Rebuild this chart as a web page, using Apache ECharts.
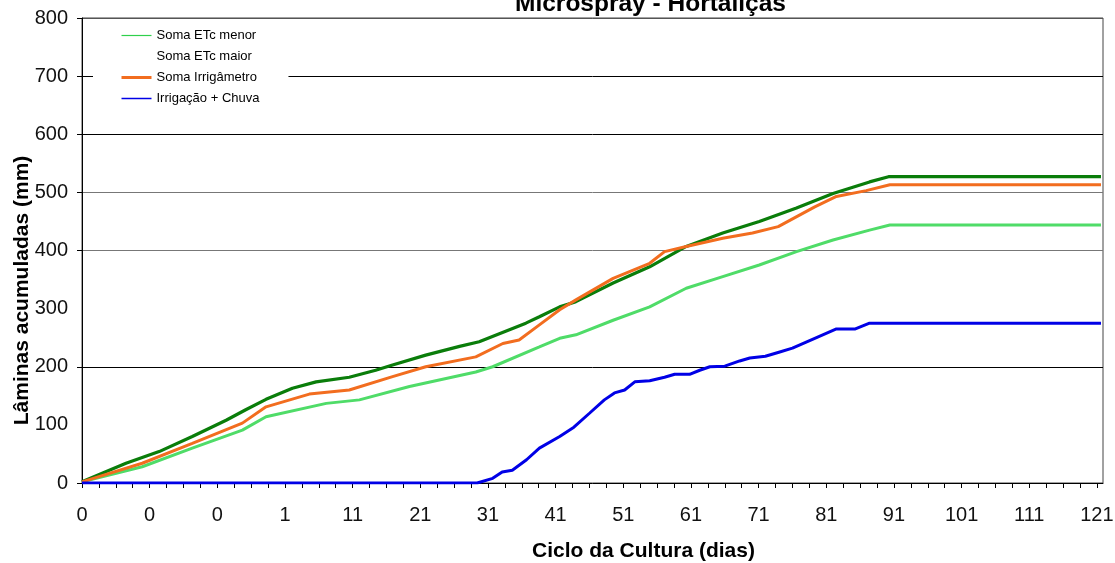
<!DOCTYPE html>
<html>
<head>
<meta charset="utf-8">
<script src="https://cdn.jsdelivr.net/npm/echarts@6/dist/echarts.min.js"></script>
<style>html,body{margin:0;padding:0;background:#fff}#c{width:1115px;height:563px}</style>
</head>
<body>
<div id="c"></div>
<script>
// x positions are in axis units: one labelled step = 10 units
const xTickLabels = ['0','0','0','1','11','21','31','41','51','61','71','81','91','101','111','121'];
const seriesNames = ['Soma ETc menor', 'Soma ETc maior', 'Soma Irrigâmetro', 'Irrigação + Chuva'];

const somaEtcMenor = [[0,2],[8.9,28],[16.3,60],[23.7,91],[27.2,114],[36.1,137],[41.0,143],[48.4,166],[58.2,191],[60.7,200],[67.6,234],[70.6,249],[73.0,255],[78.5,280],[83.9,303],[89.3,335],[94.7,355],[100.1,375],[105.6,398],[111.0,418],[116.4,435],[119.4,444],[150.6,444]];
const somaEtcMaior = [[0,2],[6.5,34],[11.4,54],[16.3,80],[21.3,108],[24.2,126],[27.2,144],[31.1,163],[34.6,174],[39.5,182],[43.4,194],[45.9,203],[50.8,220],[55.8,235],[58.7,243],[65.6,275],[67.6,286],[70.6,303],[73.0,312],[78.5,344],[83.9,372],[89.3,407],[94.7,430],[100.1,450],[105.6,473],[111.0,498],[116.4,518],[119.2,527],[150.6,527]];
const somaIrrigametro = [[0,2],[8.9,34],[16.3,68],[23.7,103],[27.2,131],[33.6,153],[39.5,160],[45.9,183],[50.8,200],[58.2,217],[62.2,240],[64.6,246],[67.6,272],[70.6,298],[73.0,315],[78.5,352],[83.9,378],[86.1,398],[89.3,407],[94.7,421],[99.1,430],[102.9,441],[108.3,475],[111.5,493],[115.9,503],[119.4,513],[150.6,513]];
const irrigacaoChuva = [[0,0],[58.4,0],[60.7,8],[62.1,19],[63.6,22],[65.7,40],[67.6,60],[70.6,80],[72.7,96],[75.0,120],[77.2,143],[78.7,155],[80.2,160],[81.7,174],[83.9,176],[86.1,182],[87.6,187],[89.8,187],[91.3,194],[92.8,200],[95.0,201],[97.2,210],[98.7,215],[101.0,218],[103.0,225],[105.0,232],[108.3,249],[111.5,265],[114.3,265],[116.4,275],[150.6,275]];

// y ticks / gridlines present in the original chart
const yTickValues = [0, 200, 400, 500, 600, 700, 800];

const xMinorTicks = [];
for (let v = 0; v <= 150; v += 2.5) xMinorTicks.push(v);
const xLabelValues = xTickLabels.map((_, i) => i * 10);

const FONT = 'Liberation Sans, Arial, sans-serif';
const colors = ['#4fdc68', '#0a7d0a', '#f26d1f', '#0000e6'];
const T = 'rgba(0,0,0,0)';

const chart = echarts.init(document.getElementById('c'), null, {renderer: 'canvas'});
chart.setOption({
  animation: false,
  backgroundColor: '#fff',
  title: {
    text: 'Microspray - Hortaliças',
    left: 515,
    top: -8,
    padding: 0,
    textStyle: {fontFamily: FONT, fontSize: 24.5, fontWeight: 'bold', color: '#000'}
  },
  legend: {
    orient: 'vertical',
    left: 93,
    top: 20,
    padding: [9, 29, 8, 27],
    backgroundColor: '#fff',
    itemWidth: 30,
    itemHeight: 14,
    itemGap: 8,
    itemStyle: {opacity: 0},
    textStyle: {fontFamily: FONT, fontSize: 13, color: '#000'},
    data: [
      {name: seriesNames[0], lineStyle: {width: 1.2, color: '#2fd04c'}},
      {name: seriesNames[1], lineStyle: {width: 1, color: T}},
      {name: seriesNames[2], lineStyle: {width: 3}},
      {name: seriesNames[3], lineStyle: {width: 1.5}}
    ]
  },
  grid: {
    left: 82, right: 12, top: 18, bottom: 80,
    outerBoundsMode: 'none',
    containLabel: false,
    show: true, borderColor: '#444', borderWidth: 1, backgroundColor: 'transparent'
  },
  xAxis: {
    type: 'value',
    min: 0,
    max: 150.9,
    name: 'Ciclo da Cultura (dias)',
    nameLocation: 'middle',
    nameMoveOverlap: false,
    nameGap: 58,
    nameTextStyle: {fontFamily: FONT, fontSize: 21, fontWeight: 'bold', color: '#000', padding: [0, 0, 0, 102]},
    axisLine: {show: true, lineStyle: {color: '#000', width: 1}},
    axisTick: {show: true, inside: false, length: 5, customValues: xMinorTicks, lineStyle: {color: '#000'}},
    axisLabel: {
      show: true,
      customValues: xLabelValues,
      margin: 22,
      fontFamily: FONT, fontSize: 20, color: '#111',
      formatter: v => xTickLabels[Math.round(v / 10)]
    },
    splitLine: {show: false}
  },
  yAxis: {
    type: 'value',
    min: 0,
    max: 800,
    interval: 100,
    name: 'Lâminas acumuladas (mm)',
    nameLocation: 'middle',
    nameMoveOverlap: false,
    nameGap: 49,
    nameTextStyle: {fontFamily: FONT, fontSize: 21, fontWeight: 'bold', color: '#000', padding: [0, 80, 0, 0]},
    axisLine: {show: true, lineStyle: {color: '#000', width: 1}},
    axisTick: {show: true, inside: false, length: 5, customValues: yTickValues, lineStyle: {color: '#000'}},
    axisLabel: {margin: 14, fontFamily: FONT, fontSize: 20, color: '#111'},
    splitLine: {
      show: true,
      lineStyle: {
        width: 1,
        color: [T, '#000', '#777', '#777', '#000', '#000', '#555']
      }
    }
  },
  series: [
    {name: seriesNames[0], type: 'line', data: somaEtcMenor, symbol: 'none', lineStyle: {width: 3, color: colors[0]}, itemStyle: {color: colors[0]}, z: 2},
    {name: seriesNames[1], type: 'line', data: somaEtcMaior, symbol: 'none', lineStyle: {width: 3.2, color: colors[1]}, itemStyle: {color: colors[1]}, z: 3},
    {name: seriesNames[2], type: 'line', data: somaIrrigametro, symbol: 'none', lineStyle: {width: 3, color: colors[2]}, itemStyle: {color: colors[2]}, z: 4},
    {name: seriesNames[3], type: 'line', data: irrigacaoChuva, symbol: 'none', lineStyle: {width: 3, color: colors[3]}, itemStyle: {color: colors[3]}, z: 5}
  ]
});
</script>
</body>
</html>
